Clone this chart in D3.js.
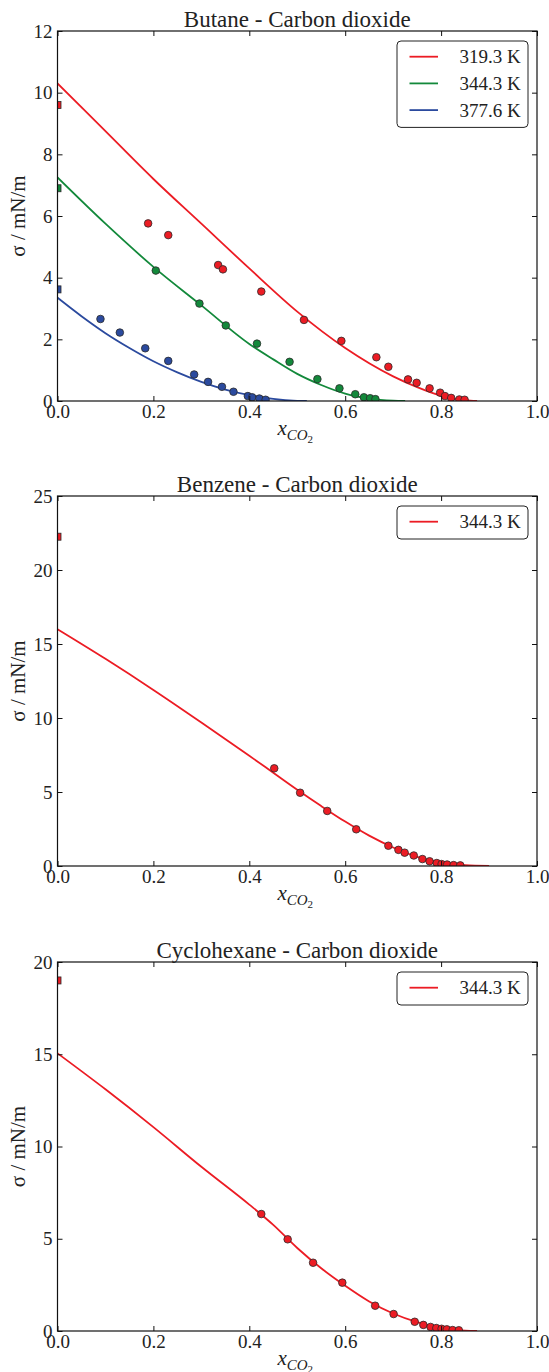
<!DOCTYPE html>
<html><head><meta charset="utf-8">
<script src="https://cdn.jsdelivr.net/npm/d3@7"></script>
<style>
body{margin:0;background:#fff}
svg{display:block}
svg text{font-family:'Liberation Serif','Times New Roman',Tinos,Times,'DejaVu Serif',serif;fill:#222}
</style>
</head><body>
<svg id="chart" width="549" height="1372"></svg>
<script>
// ---------- data ----------
const titles = ["Butane - Carbon dioxide", "Benzene - Carbon dioxide", "Cyclohexane - Carbon dioxide"];
const xTicks = [0, 0.2, 0.4, 0.6, 0.8, 1.0];
const yTicksButane = [0, 2, 4, 6, 8, 10, 12];
const yTicksBenzene = [0, 5, 10, 15, 20, 25];
const yTicksCyclohexane = [0, 5, 10, 15, 20];

const butaneTemps = ["319.3 K", "344.3 K", "377.6 K"];
const benzeneTemps = ["344.3 K"];
const cyclohexaneTemps = ["344.3 K"];

// Butane - CO2, 319.3 K
const but319Curve = [[0,10.3],[0.1,8.75],[0.2,7.2],[0.3,5.75],[0.4,4.3],[0.5,2.9],[0.6,1.72],[0.7,0.8],[0.75,0.45],[0.8,0.17],[0.85,0.03],[0.875,0]];
const but319Points = [[0.189,5.76],[0.231,5.38],[0.335,4.41],[0.345,4.27],[0.425,3.55],[0.514,2.63],[0.592,1.95],[0.665,1.42],[0.69,1.11],[0.731,0.70],[0.749,0.59],[0.776,0.41],[0.798,0.27],[0.808,0.16],[0.821,0.10],[0.838,0.05],[0.849,0.04]];
const but319Pure = 9.6;
// Butane - CO2, 344.3 K
const but344Curve = [[0,7.25],[0.1,5.75],[0.2,4.35],[0.3,3.1],[0.4,1.85],[0.45,1.35],[0.5,0.88],[0.55,0.52],[0.6,0.24],[0.65,0.08],[0.7,0.01],[0.725,0]];
const but344Points = [[0.205,4.23],[0.296,3.16],[0.351,2.45],[0.416,1.86],[0.484,1.27],[0.542,0.71],[0.588,0.41],[0.621,0.22],[0.639,0.12],[0.652,0.09],[0.663,0.06]];
const but344Pure = 6.9;
// Butane - CO2, 377.6 K
const but377Curve = [[0,3.35],[0.05,2.75],[0.1,2.2],[0.15,1.72],[0.2,1.29],[0.25,0.93],[0.3,0.62],[0.35,0.37],[0.4,0.19],[0.45,0.066],[0.5,0.006],[0.52,0]];
const but377Points = [[0.0896,2.66],[0.130,2.22],[0.183,1.71],[0.231,1.30],[0.285,0.86],[0.314,0.62],[0.343,0.46],[0.367,0.30],[0.397,0.16],[0.406,0.12],[0.421,0.08],[0.434,0.04]];
const but377Pure = 3.62;

// Benzene - CO2, 344.3 K
const benCurve = [[0,16.0],[0.1,14.0],[0.2,11.9],[0.3,9.7],[0.4,7.45],[0.45,6.3],[0.5,5.15],[0.55,4.05],[0.6,3.0],[0.65,2.05],[0.7,1.25],[0.75,0.62],[0.8,0.22],[0.85,0.05],[0.9,0]];
const benPoints = [[0.452,6.6],[0.506,4.95],[0.5625,3.72],[0.623,2.48],[0.69,1.37],[0.711,1.09],[0.724,0.9],[0.743,0.71],[0.761,0.47],[0.776,0.32],[0.791,0.2],[0.801,0.13],[0.8125,0.1],[0.826,0.06],[0.84,0.04]];
const benPure = 22.25;

// Cyclohexane - CO2, 344.3 K
const cycCurve = [[0,15.05],[0.1,13.1],[0.2,11.05],[0.3,8.9],[0.4,6.85],[0.45,5.75],[0.5,4.5],[0.55,3.4],[0.6,2.45],[0.65,1.6],[0.7,0.95],[0.75,0.48],[0.8,0.15],[0.85,0.02],[0.875,0]];
const cycPoints = [[0.425,6.34],[0.48,4.97],[0.533,3.7],[0.594,2.62],[0.6625,1.37],[0.701,0.92],[0.745,0.5],[0.763,0.33],[0.778,0.22],[0.79,0.16],[0.801,0.12],[0.812,0.09],[0.824,0.05],[0.837,0.04]];
const cycPure = 19.0;

const colors = ["#ec1c24", "#13893b", "#2b4a9e"];

// ---------- panels ----------
const panels = [
  {title: titles[0], yTicks: yTicksButane, yMax: 12, top: 31, h: 370,
   series: [
     {name: butaneTemps[0], curve: but319Curve, pts: but319Points, pure: but319Pure, color: colors[0]},
     {name: butaneTemps[1], curve: but344Curve, pts: but344Points, pure: but344Pure, color: colors[1]},
     {name: butaneTemps[2], curve: but377Curve, pts: but377Points, pure: but377Pure, color: colors[2]}]},
  {title: titles[1], yTicks: yTicksBenzene, yMax: 25, top: 496, h: 370,
   series: [{name: benzeneTemps[0], curve: benCurve, pts: benPoints, pure: benPure, color: colors[0]}]},
  {title: titles[2], yTicks: yTicksCyclohexane, yMax: 20, top: 962, h: 369,
   series: [{name: cyclohexaneTemps[0], curve: cycCurve, pts: cycPoints, pure: cycPure, color: colors[0]}]}
];

const FONT = "'Liberation Serif','Times New Roman',Tinos,Times,'DejaVu Serif',serif";
const svg = d3.select("#chart");
const L = 57.5, R = 537;
const x = d3.scaleLinear().domain([0, 1]).range([L, R]);

panels.forEach((p, i) => {
  const T = p.top, B = p.top + p.h;
  const y = d3.scaleLinear().domain([0, p.yMax]).range([B, T]);
  const g = svg.append("g").attr("font-family", FONT);
  const clipId = "clip" + i;
  svg.append("clipPath").attr("id", clipId).append("rect")
    .attr("x", L).attr("y", T).attr("width", R - L).attr("height", B - T);

  const plot = g.append("g").attr("clip-path", `url(#${clipId})`);
  const line = d3.line().x(d => x(d[0])).y(d => y(d[1])).curve(d3.curveMonotoneX);

  p.series.forEach(s => {
    plot.append("path").datum(s.curve).attr("d", line)
      .attr("fill", "none").attr("stroke", s.color).attr("stroke-width", 1.8);
  });
  p.series.forEach(s => {
    plot.selectAll(null).data(s.pts).enter().append("circle")
      .attr("cx", d => x(d[0])).attr("cy", d => y(d[1])).attr("r", 3.8)
      .attr("fill", s.color).attr("stroke", "#2a2a2a").attr("stroke-width", 0.8);
    plot.append("rect")
      .attr("x", x(0) - 3.5).attr("y", y(s.pure) - 3.5).attr("width", 7).attr("height", 7)
      .attr("fill", s.color).attr("stroke", "#2a2a2a").attr("stroke-width", 0.8);
  });

  // axes (inward ticks on all sides)
  const ax = g.append("g").attr("transform", `translate(0,${B})`)
    .call(d3.axisBottom(x).tickValues(xTicks).tickFormat(d3.format(".1f")).tickSize(-5).tickSizeOuter(0).tickPadding(3));
  const ay = g.append("g").attr("transform", `translate(${L},0)`)
    .call(d3.axisLeft(y).tickValues(p.yTicks).tickFormat(d3.format("d")).tickSize(-5).tickSizeOuter(0).tickPadding(5));
  const at = g.append("g").attr("transform", `translate(0,${T})`)
    .call(d3.axisTop(x).tickValues(xTicks).tickFormat("").tickSize(-5).tickSizeOuter(0));
  const ar = g.append("g").attr("transform", `translate(${R},0)`)
    .call(d3.axisRight(y).tickValues(p.yTicks).tickFormat("").tickSize(-5).tickSizeOuter(0));
  [ax, ay, at, ar].forEach(a => {
    a.attr("font-family", FONT);
    a.select(".domain").remove();
    a.selectAll(".tick line").attr("stroke", "#111").attr("stroke-width", 1);
    a.selectAll("text").attr("font-size", 19).attr("fill", "#222");
  });
  g.append("rect").attr("x", L).attr("y", T).attr("width", R - L).attr("height", B - T)
    .attr("fill", "none").attr("stroke", "#111").attr("stroke-width", 1.2);

  // title
  g.append("text").attr("x", (L + R) / 2).attr("y", T - 4).attr("text-anchor", "middle")
    .attr("font-size", 23).text(p.title);

  // y label
  g.append("text").attr("transform", `translate(25,${(T + B) / 2}) rotate(-90)`)
    .attr("text-anchor", "middle").attr("font-size", 21).text("σ / mN/m");

  // x label
  const xl = g.append("text").attr("x", (L + R) / 2 - 2).attr("y", B + 34).attr("text-anchor", "middle");
  xl.append("tspan").attr("font-style", "italic").attr("font-size", 21).text("x");
  xl.append("tspan").attr("font-style", "italic").attr("font-size", 15).attr("dy", 5).text("CO");
  xl.append("tspan").attr("font-size", 11).attr("dy", 3).text("2");

  // legend
  const n = p.series.length;
  const lg = g.append("g");
  lg.append("rect").attr("x", 397).attr("y", T + 10).attr("width", 131)
    .attr("height", 33 + (n - 1) * 26.7).attr("rx", 4)
    .attr("fill", "#fff").attr("stroke", "#222").attr("stroke-width", 1);
  p.series.forEach((s, k) => {
    const cy = T + 25.7 + k * 26.7;
    lg.append("line").attr("x1", 409.5).attr("x2", 438).attr("y1", cy).attr("y2", cy)
      .attr("stroke", s.color).attr("stroke-width", 1.8);
    lg.append("text").attr("x", 459.5).attr("y", cy).attr("dy", "0.35em")
      .attr("font-size", 19).text(s.name);
  });
});
</script>
</body></html>
